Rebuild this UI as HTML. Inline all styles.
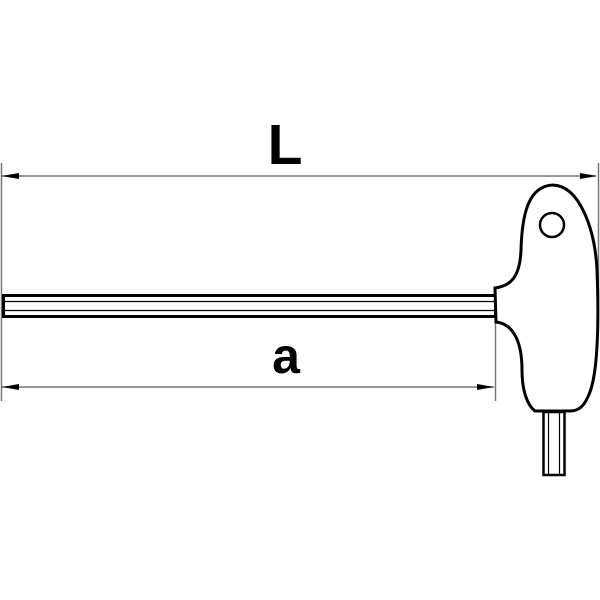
<!DOCTYPE html>
<html><head><style>body{margin:0;background:#fff}svg{display:block}</style></head>
<body>
<svg width="600" height="600" viewBox="0 0 600 600" xmlns="http://www.w3.org/2000/svg">
<rect width="600" height="600" fill="#fff"/>
<g stroke="#777" stroke-width="1.5" fill="none">
<line x1="1.5" y1="163" x2="1.5" y2="401"/>
<line x1="2" y1="176" x2="596" y2="176"/>
<line x1="2" y1="387" x2="494" y2="387"/>
<line x1="495.5" y1="318" x2="495.5" y2="401"/>
<line x1="598.5" y1="163" x2="598.5" y2="300"/>
</g>
<g fill="#000">
<polygon points="2,176 19,173 19,179"/>
<polygon points="597,176 580,173 580,179"/>
<polygon points="2,387 19,384 19,390"/>
<polygon points="494,387 477,384 477,390"/>
</g>
<g stroke="#000" fill="none">
<rect x="3.5" y="295.5" width="492" height="21" stroke-width="3"/>
<line x1="4" y1="301.5" x2="495" y2="301.5" stroke-width="1.2"/>
<line x1="4" y1="310.5" x2="495" y2="310.5" stroke-width="1.2"/>
<path d="M495,288 C512,286 520,275 521,250 C522,215 528,186 553,185 C580,186 595,230 597,270 C599,320 598,370 590,392 C585,405 580,411 570,411 L535,411 C527,405 522,390 522,370 C522,345 515,324 496,322 Z" stroke-width="3" fill="#fff"/>
<line x1="495.5" y1="288" x2="495.5" y2="322" stroke-width="2"/>
<circle cx="552" cy="225" r="12" stroke-width="2.5"/>
<rect x="543.5" y="412" width="21" height="63" stroke-width="2.5" fill="#fff"/>
<line x1="548.5" y1="412" x2="548.5" y2="474" stroke-width="1.2"/>
<line x1="559.5" y1="412" x2="559.5" y2="474" stroke-width="1.2"/>
</g>
<text x="285" y="164" font-family="Liberation Sans, sans-serif" font-size="57" font-weight="bold" text-anchor="middle" fill="#000">L</text>
<text x="286" y="373" font-family="Liberation Sans, sans-serif" font-size="50" font-weight="bold" text-anchor="middle" fill="#000">a</text>
</svg>
</body></html>
